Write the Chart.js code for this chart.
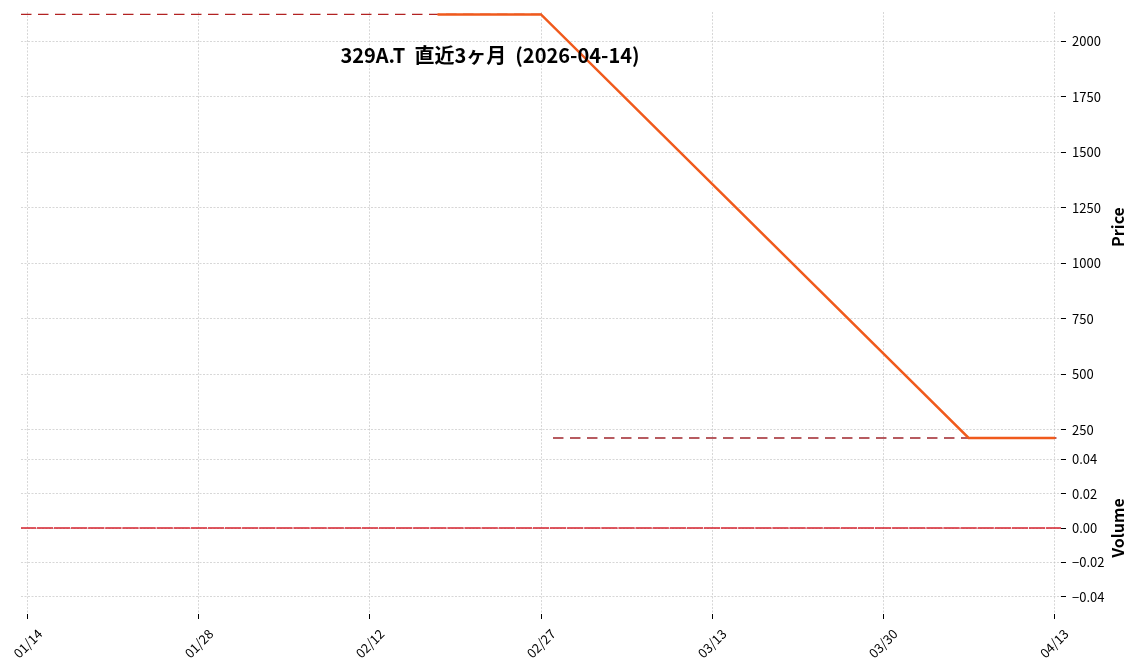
<!DOCTYPE html>
<html>
<head>
<meta charset="utf-8">
<script src="https://cdn.jsdelivr.net/npm/chart.js@4.4.1/dist/chart.umd.min.js"></script>
<style>
  html, body { margin: 0; padding: 0; background: #ffffff; }
  #wrap { position: relative; width: 1141px; height: 670px; }
</style>
</head>
<body>
<div id="wrap"><canvas id="c" width="1141" height="670"></canvas></div>
<script>
// ---- data ----
const chartTitle = '329A.T  直近3ヶ月  (2026-04-14)';
const dates = [
  '01/14','01/15','01/16','01/19','01/20','01/21','01/22','01/23','01/26','01/27',
  '01/28','01/29','01/30','02/02','02/03','02/04','02/05','02/06','02/09','02/10',
  '02/12','02/13','02/16','02/17','02/18','02/19','02/20','02/24','02/25','02/26',
  '02/27','03/02','03/03','03/04','03/05','03/06','03/09','03/10','03/11','03/12',
  '03/13','03/16','03/17','03/18','03/19','03/23','03/24','03/25','03/26','03/27',
  '03/30','03/31','04/01','04/02','04/03','04/06','04/07','04/08','04/09','04/10',
  '04/13'
];
const priceDates  = ['02/18', '02/27', '04/06', '04/13'];
const priceValues = [2120, 2120, 212, 212];
const volumeValues = dates.map(() => 0);
const upperLevel = 2120;
const upperSpan  = [-0.4, 30.4];
const lowerLevel = 212;
const lowerSpan  = [30.7, 60.3];
const xTickDates  = ['01/14','01/28','02/12','02/27','03/13','03/30','04/13'];
const priceTicks  = [250, 500, 750, 1000, 1250, 1500, 1750, 2000];
const volumeTicks = [-0.04, -0.02, 0, 0.02, 0.04];

// ---- build ----
const FONT = "'Noto Sans CJK JP', 'Noto Sans', sans-serif";
Chart.defaults.font.family = FONT;
Chart.defaults.color = '#000';

const pricePoints = priceDates.map((d, i) => ({ x: dates.indexOf(d), y: priceValues[i] }));
const volumePoints = volumeValues.map((v, i) => ({ x: i, y: v }));
const xTickIdx = xTickDates.map(d => dates.indexOf(d));

const GRID = '#bcbcbc';
const GRID_DASH = [2, 1.5];

const overlay = {
  id: 'overlay',
  afterDraw(chart) {
    const ctx = chart.ctx;
    ctx.save();
    ctx.fillStyle = '#000';
    ctx.textAlign = 'center';
    ctx.textBaseline = 'middle';
    ctx.font = 'bold 20px ' + FONT;
    ctx.fillText(chartTitle, 490, 55);
    const drawAxisTitle = (scale, text) => {
      ctx.save();
      ctx.translate(scale.right - 23, (scale.top + scale.bottom) / 2);
      ctx.rotate(-Math.PI / 2);
      ctx.font = 'bold 16px ' + FONT;
      ctx.textAlign = 'center';
      ctx.textBaseline = 'middle';
      ctx.fillText(text, 0, 0);
      ctx.restore();
    };
    drawAxisTitle(chart.scales.y, 'Price');
    drawAxisTitle(chart.scales.yv, 'Volume');
    ctx.restore();
  }
};

const fmtVol = v => (v < 0 ? '\u2212' : '') + Math.abs(v).toFixed(2);

new Chart(document.getElementById('c'), {
  type: 'line',
  data: {
    datasets: [
      {
        type: 'line', label: 'price', data: pricePoints, yAxisID: 'y',
        borderColor: '#f05a1c', borderWidth: 2.5, pointRadius: 0, spanGaps: true,
        tension: 0, order: 0, borderCapStyle: 'round'
      },
      {
        type: 'line', label: 'upper', yAxisID: 'y',
        data: upperSpan.map(x => ({ x, y: upperLevel })),
        borderColor: '#b22222', borderWidth: 1.3, borderDash: [10.5, 6.5],
        pointRadius: 0, order: 1
      },
      {
        type: 'line', label: 'lower', yAxisID: 'y',
        data: lowerSpan.map(x => ({ x, y: lowerLevel })),
        borderColor: '#a0262c', borderWidth: 1.3, borderDash: [10.5, 6.5],
        pointRadius: 0, order: 1
      },
      {
        type: 'bar', label: 'volume', data: volumePoints, yAxisID: 'yv',
        backgroundColor: '#d4202c', borderWidth: 0, minBarLength: 1.5,
        barPercentage: 0.95, categoryPercentage: 1, order: 2
      }
    ]
  },
  options: {
    responsive: false,
    animation: false,
    layout: { padding: { left: 21, top: 12, right: 0, bottom: 0 } },
    plugins: { legend: { display: false }, tooltip: { enabled: false }, title: { display: false } },
    scales: {
      x: {
        type: 'linear', min: -0.4, max: 60.4, offset: false,
        afterBuildTicks: s => { s.ticks = xTickIdx.map(v => ({ value: v })); },
        afterFit: s => { s.height = 56; s.paddingLeft = 0; s.paddingRight = 0; },
        ticks: {
          autoSkip: false, minRotation: 45, maxRotation: 45,
          font: { size: 13 }, color: '#000', padding: 7, labelOffset: 12,
          callback: v => dates[v]
        },
        grid: { color: GRID, lineWidth: 0.6, tickColor: '#000', tickLength: 5, tickWidth: 1, offset: false },
        border: { display: false, dash: GRID_DASH }
      },
      y: {
        type: 'linear', position: 'right', stack: 'v', stackWeight: 2.5,
        min: 194, max: 2131,
        afterBuildTicks: s => { s.ticks = priceTicks.map(v => ({ value: v })); },
        afterFit: s => { s.width = 80; s.paddingTop = 0; s.paddingBottom = 0; },
        ticks: { font: { size: 13 }, color: '#000', padding: 6, callback: v => String(v) },
        grid: { color: GRID, lineWidth: 0.6, tickColor: '#000', tickLength: 5, tickWidth: 1 },
        border: { display: false, dash: GRID_DASH }
      },
      yv: {
        type: 'linear', position: 'right', stack: 'v', stackWeight: 1,
        min: -0.05, max: 0.05,
        afterBuildTicks: s => { s.ticks = volumeTicks.map(v => ({ value: v })); },
        afterFit: s => { s.width = 80; s.paddingTop = 0; s.paddingBottom = 0; },
        ticks: { font: { size: 13 }, color: '#000', padding: 6, callback: v => fmtVol(v) },
        grid: { color: GRID, lineWidth: 0.6, tickColor: '#000', tickLength: 5, tickWidth: 1 },
        border: { display: false, dash: GRID_DASH }
      }
    }
  },
  plugins: [overlay]
});
</script>
</body>
</html>
